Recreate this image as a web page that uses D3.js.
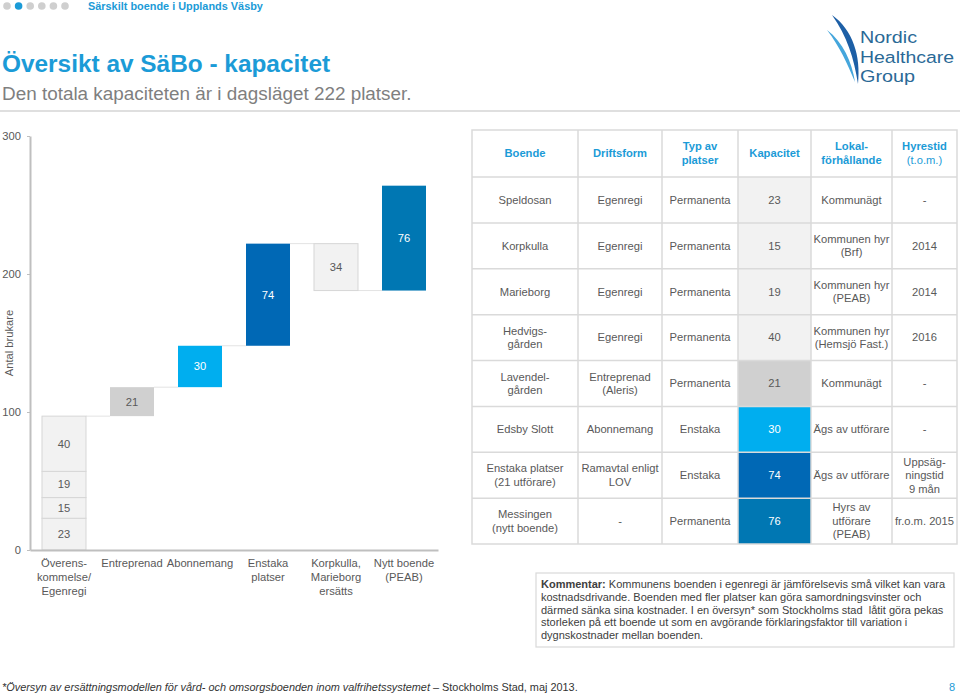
<!DOCTYPE html>
<html><head><meta charset="utf-8">
<script src="https://cdn.jsdelivr.net/npm/d3@7"></script>
<style>body{margin:0;background:#fff}svg{display:block;font-family:"Liberation Sans",Arial,sans-serif}</style>
</head><body><svg id="c" width="960" height="696"></svg>
<script>
// ---------- DATA ----------
const categories = ["Överens-\nkommelse/\nEgenregi", "Entreprenad", "Abonnemang", "Enstaka\nplatser", "Korpkulla,\nMarieborg\nersätts", "Nytt boende\n(PEAB)"];
const egenregiStack = [23, 15, 19, 40];           // Speldosan, Korpkulla, Marieborg, Hedvigsgården
const steps = [21, 30, 74, -34, 76];              // waterfall changes for categories 2..6
const yTicks = [0, 100, 200, 300];
const yTitle = "Antal brukare";

const tableHeaders = ["Boende", "Driftsform", "Typ av\nplatser", "Kapacitet", "Lokal-\nförhållande", "Hyrestid\n(t.o.m.)"];
const boende = ["Speldosan", "Korpkulla", "Marieborg", "Hedvigs-\ngården", "Lavendel-\ngården", "Edsby Slott", "Enstaka platser\n(21 utförare)", "Messingen\n(nytt boende)"];
const driftsform = ["Egenregi", "Egenregi", "Egenregi", "Egenregi", "Entreprenad\n(Aleris)", "Abonnemang", "Ramavtal enligt\nLOV", "-"];
const typAvPlatser = ["Permanenta", "Permanenta", "Permanenta", "Permanenta", "Permanenta", "Enstaka", "Enstaka", "Permanenta"];
const kapacitet = [23, 15, 19, 40, 21, 30, 74, 76];
const lokal = ["Kommunägt", "Kommunen hyr\n(Brf)", "Kommunen hyr\n(PEAB)", "Kommunen hyr\n(Hemsjö Fast.)", "Kommunägt", "Ägs av utförare", "Ägs av utförare", "Hyrs av\nutförare\n(PEAB)"];
const hyrestid = ["-", "2014", "2014", "2016", "-", "-", "Uppsäg-\nningstid\n9 mån", "fr.o.m. 2015"];
const rowCategory = [0, 0, 0, 0, 1, 2, 3, 5];

// ---------- STYLE ----------
const catColors = ["#f2f2f2", "#d0d0d0", "#00aeef", "#0068b5", "#f2f2f2", "#0077b3"];
const darkText = ["#595959", "#595959", "#fff", "#fff", "#595959", "#fff"];
const blue = "#1b9bd7";
const gray = "#595959";
const fs = 11.2;

const svg = d3.select("#c");

function multiText(g, str, x, cy, lh, attrs) {
  const lines = str.split("\n");
  const t = g.append("text").attr("x", x).attr("text-anchor", "middle");
  for (const k in attrs) t.attr(k, attrs[k]);
  lines.forEach((l, i) => {
    t.append("tspan").attr("x", x).attr("y", cy + (i - (lines.length - 1) / 2) * lh).attr("dy", "0.35em").text(l);
  });
  return t;
}

// ---------- HEADER ----------
const dots = d3.range(6);
svg.selectAll("circle.dot").data(dots).enter().append("circle")
  .attr("cx", d => 7 + d * 11.6).attr("cy", 6).attr("r", 3.8)
  .attr("fill", d => d === 1 ? blue : "#cfcfcf");
svg.append("text").attr("x", 88).attr("y", 10).attr("font-size", 10.9).attr("font-weight", "bold").attr("fill", blue)
  .text("Särskilt boende i Upplands Väsby");
svg.append("text").attr("x", 2).attr("y", 72).attr("font-size", 24.4).attr("font-weight", "bold").attr("fill", blue)
  .text("Översikt av SäBo - kapacitet");
svg.append("text").attr("x", 2).attr("y", 100).attr("font-size", 18.9).attr("fill", "#7f7f7f")
  .text("Den totala kapaciteten är i dagsläget 222 platser.");
svg.append("line").attr("x1", 0).attr("x2", 960).attr("y1", 111).attr("y2", 111).attr("stroke", "#d4d4d4").attr("stroke-width", 1.5);

// logo
const logo = svg.append("g");
logo.append("path").attr("d", "M832,15 C853,30 861,56 858,84 C854,58 847,36 832,15 Z").attr("fill", "#1d5fa6");
logo.append("path").attr("d", "M827,30 C843,42 852,62 855,82 C847,63 840,47 827,30 Z").attr("fill", "#45a6dc");
const logoWords = ["Nordic", "Healthcare", "Group"];
const logoLen = [57, 94, 55];
logoWords.forEach((w, i) => {
  logo.append("text").attr("x", 860).attr("y", 43 + i * 19.5).attr("font-size", 16.8).attr("font-family", "'Liberation Sans',Arial,sans-serif")
    .attr("fill", "#2a6996").attr("textLength", logoLen[i]).attr("lengthAdjust", "spacingAndGlyphs").text(w);
});

// ---------- CHART ----------
const x = d3.scaleBand().domain(d3.range(categories.length)).range([30, 438]).paddingInner(0.353).paddingOuter(0.1765);
const y = d3.scaleLinear().domain([0, 300]).range([550, 136]);

const segs = [];
let acc = 0;
egenregiStack.forEach(v => { segs.push({ c: 0, a: acc, b: acc + v, v }); acc += v; });
const connectors = [];
steps.forEach((s, i) => {
  connectors.push({ from: i, to: i + 1, level: acc });
  segs.push({ c: i + 1, a: acc, b: acc + s, v: Math.abs(s) });
  acc += s;
});

const chart = svg.append("g");
chart.selectAll("line.conn").data(connectors).enter().append("line")
  .attr("x1", d => x(d.from) + x.bandwidth()).attr("x2", d => x(d.to))
  .attr("y1", d => y(d.level)).attr("y2", d => y(d.level))
  .attr("stroke", "#e3e3e3").attr("stroke-width", 1);

chart.selectAll("rect.seg").data(segs).enter().append("rect")
  .attr("x", d => x(d.c)).attr("width", x.bandwidth())
  .attr("y", d => y(Math.max(d.a, d.b))).attr("height", d => Math.abs(y(d.a) - y(d.b)))
  .attr("fill", d => catColors[d.c])
  .attr("stroke", d => (d.c === 0 || d.c === 4) ? "#d6d6d6" : "none").attr("stroke-width", 1);

chart.selectAll("text.val").data(segs).enter().append("text")
  .attr("x", d => x(d.c) + x.bandwidth() / 2).attr("y", d => y((d.a + d.b) / 2)).attr("dy", "0.35em")
  .attr("text-anchor", "middle").attr("font-size", fs).attr("fill", d => darkText[d.c]).text(d => d.v);

const yAxis = d3.axisLeft(y).tickValues(yTicks).tickSize(3).tickPadding(6).tickSizeOuter(0);
const ya = chart.append("g").attr("transform", "translate(30,0)").call(yAxis);
ya.select(".domain").attr("stroke", "#bfbfbf").attr("stroke-width", 2);
ya.selectAll(".tick line").attr("stroke", "#bfbfbf");
ya.selectAll(".tick text").attr("font-size", fs).attr("fill", gray).attr("font-family", "'Liberation Sans',Arial,sans-serif");

const xAxis = d3.axisBottom(x).tickSize(0).tickFormat("");
const xa = chart.append("g").attr("transform", "translate(0,550)").call(xAxis);
xa.select(".domain").attr("stroke", "#bfbfbf").attr("stroke-width", 2);
categories.forEach((c, i) => {
  const lines = c.split("\n");
  const t = chart.append("text").attr("text-anchor", "middle").attr("font-size", fs).attr("fill", gray);
  lines.forEach((l, j) => t.append("tspan").attr("x", x(i) + x.bandwidth() / 2).attr("y", 567 + j * 14).text(l));
});
chart.append("text").attr("transform", "translate(13,343) rotate(-90)").attr("text-anchor", "middle")
  .attr("font-size", fs).attr("fill", gray).text(yTitle);

// ---------- TABLE ----------
const colW = [106, 84, 76, 73, 81, 65];
const colX = [472];
colW.forEach((w, i) => colX.push(colX[i] + w));
const rowBand = d3.scaleBand().domain(d3.range(boende.length)).range([177, 544]);
const headTop = 130;
const tbl = svg.append("g");
const cols = [boende, driftsform, typAvPlatser, kapacitet, lokal, hyrestid];

// kapacitet fills
tbl.selectAll("rect.kap").data(kapacitet).enter().append("rect")
  .attr("x", colX[3]).attr("width", colW[3]).attr("y", (d, i) => rowBand(i)).attr("height", rowBand.bandwidth())
  .attr("fill", (d, i) => catColors[rowCategory[i]]);

// grid
const gridC = "#dadada";
tbl.append("rect").attr("x", colX[0]).attr("y", headTop).attr("width", colX[6] - colX[0]).attr("height", 544 - headTop)
  .attr("fill", "none").attr("stroke", gridC).attr("stroke-width", 1.5);
colX.slice(1, 6).forEach(cx => tbl.append("line").attr("x1", cx).attr("x2", cx).attr("y1", headTop).attr("y2", 544).attr("stroke", gridC).attr("stroke-width", 1.5));
d3.range(boende.length).forEach(i => tbl.append("line").attr("x1", colX[0]).attr("x2", colX[6]).attr("y1", rowBand(i)).attr("y2", rowBand(i)).attr("stroke", gridC).attr("stroke-width", 1.5));

// headers
tableHeaders.forEach((h, ci) => {
  const cx = colX[ci] + colW[ci] / 2;
  const lines = h.split("\n");
  const t = tbl.append("text").attr("text-anchor", "middle").attr("font-size", fs).attr("fill", blue);
  lines.forEach((l, j) => {
    t.append("tspan").attr("x", cx).attr("y", (headTop + 177) / 2 + (j - (lines.length - 1) / 2) * 14).attr("dy", "0.35em")
      .attr("font-weight", (ci === 5 && j === 1) ? "normal" : "bold").text(l);
  });
});

// body
cols.forEach((col, ci) => {
  col.forEach((v, ri) => {
    const cy = rowBand(ri) + rowBand.bandwidth() / 2;
    const fill = ci === 3 ? darkText[rowCategory[ri]] : gray;
    multiText(tbl, String(v), colX[ci] + colW[ci] / 2, cy, 13.5, { "font-size": fs, fill });
  });
});

// ---------- COMMENT ----------
const commentLines = [
  ["Kommentar:", " Kommunens boenden i egenregi är jämförelsevis små vilket kan vara"],
  ["", "kostnadsdrivande. Boenden med fler platser kan göra samordningsvinster och"],
  ["", "därmed sänka sina kostnader. I en översyn* som Stockholms stad  låtit göra pekas"],
  ["", "storleken på ett boende ut som en avgörande förklaringsfaktor till variation i"],
  ["", "dygnskostnader mellan boenden."]
];
svg.append("rect").attr("x", 536).attr("y", 573).attr("width", 418).attr("height", 74).attr("fill", "#fff").attr("stroke", "#d9d9d9").attr("stroke-width", 1.2);
commentLines.forEach((l, i) => {
  const t = svg.append("text").attr("x", 541).attr("y", 588 + i * 12.8).attr("font-size", 11).attr("fill", "#404040").style("white-space", "pre");
  if (l[0]) t.append("tspan").attr("font-weight", "bold").text(l[0]);
  t.append("tspan").text(l[1]);
});

// ---------- FOOTER ----------
const foot = svg.append("text").attr("x", 2).attr("y", 691).attr("font-size", 10.9).attr("fill", "#333");
foot.append("tspan").attr("font-style", "italic").text("*Översyn av ersättningsmodellen för vård- och omsorgsboenden inom valfrihetssystemet");
foot.append("tspan").text(" – Stockholms Stad, maj 2013.");
svg.append("text").attr("x", 955).attr("y", 691).attr("text-anchor", "end").attr("font-size", 11).attr("fill", blue).text("8");
</script></body></html>
